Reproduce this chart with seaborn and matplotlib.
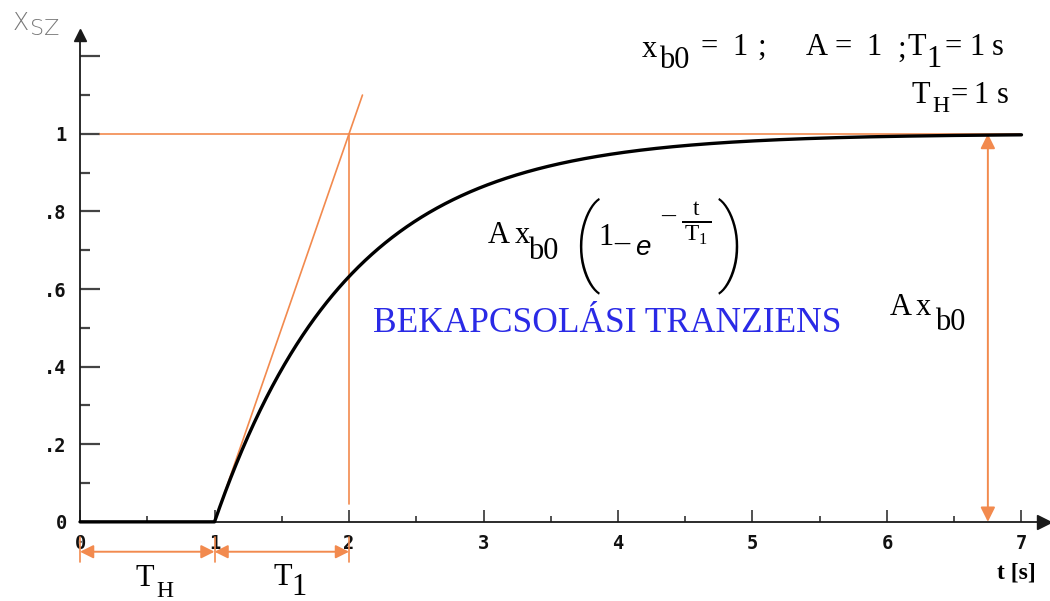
import numpy as np
import pandas as pd
import matplotlib
matplotlib.use("Agg")
import matplotlib.pyplot as plt
from matplotlib.transforms import IdentityTransform
import seaborn as sns

# Parameters of the switch-on transient
xb0 = 1.0   # input step
A = 1.0     # gain
T1 = 1.0    # time constant [s]
TH = 1.0    # dead time [s]
t_max = 7.0

x_ticks = [0, 1, 2, 3, 4, 5, 6, 7]
x_ticklabels = ["0", "1", "2", "3", "4", "5", "6", "7"]
x_minor = [0.5, 1.5, 2.5, 3.5, 4.5, 5.5, 6.5]
y_ticks = [0, 0.2, 0.4, 0.6, 0.8, 1.0, 1.2]
y_ticklabels = ["0", ".2", ".4", ".6", ".8", "1", ""]
y_minor = [0.1, 0.3, 0.5, 0.7, 0.9, 1.1]

sns.set_style("white")
plt.rcParams["mathtext.fontset"] = "custom"
plt.rcParams["mathtext.rm"] = "Liberation Serif"
plt.rcParams["mathtext.it"] = "Liberation Serif:italic"
plt.rcParams["mathtext.bf"] = "Liberation Serif:bold"
plt.rcParams["font.family"] = ["Liberation Serif", "DejaVu Sans"]

ORANGE = "#f28a4e"
AXIS = "#1a1a1a"
W, H = 1050, 601

fig = plt.figure(figsize=(W / 100, H / 100), dpi=100)
ax = fig.add_axes([0, 0, 1, 1])
ax.set_xlim(-0.595, 7.212)
ax.set_ylim(-0.204, 1.345)


def label(px, py, s, size=22, **kw):
    """Place a text piece by pixel position (origin top-left, y = baseline)."""
    kw.setdefault("ha", "left")
    kw.setdefault("va", "baseline")
    kw.setdefault("color", "black")
    return fig.text(px, H - py, s, fontsize=size, transform=IdentityTransform(), **kw)


# response curve: dead time, then first-order rise
t = np.linspace(0, t_max, 1401)
resp = np.where(t < TH, 0.0, A * xb0 * (1 - np.exp(-(t - TH) / T1)))
df = pd.DataFrame({"t": t, "x": resp})
sns.lineplot(data=df, x="t", y="x", color="black", lw=2.4, ax=ax, zorder=5)

# axes through the origin with arrow heads
for side in ["top", "right"]:
    ax.spines[side].set_visible(False)
ax.spines["left"].set_position(("data", 0))
ax.spines["bottom"].set_position(("data", 0))
ax.spines["left"].set_bounds(0, 1.25)
ax.spines["bottom"].set_bounds(0, 7.16)
for side in ["left", "bottom"]:
    ax.spines[side].set_color(AXIS)
    ax.spines[side].set_linewidth(1.3)
ax.plot([0], [1.255], marker="^", ms=8, color=AXIS, clip_on=False, zorder=6)
ax.plot([7.17], [0], marker=">", ms=10, color=AXIS, clip_on=False, zorder=6)

ax.set_xticks(x_ticks)
ax.set_xticklabels(x_ticklabels)
ax.set_xticks(x_minor, minor=True)
ax.set_yticks(y_ticks)
ax.set_yticklabels(y_ticklabels)
ax.set_yticks(y_minor, minor=True)
ax.tick_params(bottom=True, left=True, which="both")
ax.tick_params(axis="x", which="major", direction="in", length=9, width=1.2,
               color="#333333", pad=9)
ax.tick_params(axis="x", which="minor", direction="in", length=4.5, width=1.2,
               color="#333333")
ax.tick_params(axis="y", which="major", direction="in", length=14.5, width=1.6,
               color="#444444", pad=9.5)
ax.tick_params(axis="y", which="minor", direction="in", length=7, width=1.6,
               color="#444444")
for lab in ax.get_xticklabels() + ax.get_yticklabels():
    lab.set_fontfamily("DejaVu Sans Mono")
    lab.set_fontweight("bold")
    lab.set_fontsize(13.5)
    lab.set_color("#111111")
ax.set_xlabel("")
ax.set_ylabel("")

# construction lines: steady value, tangent, time constant
ax.plot([0.15, 6.99], [A * xb0, A * xb0], color=ORANGE, lw=1.2, zorder=3)
ax.plot([TH, TH + 1.1 * T1], [0, 1.1 * A * xb0], color=ORANGE, lw=1.2, zorder=3)
ax.plot([TH + T1, TH + T1], [0.045, A * xb0], color=ORANGE, lw=1.2, zorder=3)

# vertical dimension arrow A*xb0
ax.annotate("", xy=(6.75, A * xb0), xytext=(6.75, 0),
            arrowprops=dict(arrowstyle="<|-|>", color=ORANGE, lw=1.4,
                            mutation_scale=22, shrinkA=0, shrinkB=0), zorder=4)

# horizontal dimension arrows T_H and T_1 below the axis
for x0 in [0, TH, TH + T1]:
    ax.plot([x0, x0], [-0.04, -0.103], color=ORANGE, lw=1.2, clip_on=False)
for a, b in [(0, TH), (TH, TH + T1)]:
    ax.annotate("", xy=(b, -0.077), xytext=(a, -0.077),
                arrowprops=dict(arrowstyle="<|-|>", color=ORANGE, lw=1.4,
                                mutation_scale=20, shrinkA=0, shrinkB=0))

# parameter block, top right
label(642, 57, "x")
label(659, 68, "b0")
label(700, 55, "=")
label(732, 55, "1")
label(757, 55, ";")
label(806, 55, "A")
label(834, 55, "=")
label(866, 55, "1")
label(897, 57, ";")
label(907, 55, "T")
label(926, 67, "1")
label(944, 55, "=")
label(969, 55, "1")
label(992, 55, "s")
label(912, 103, "T")
label(932, 112, "H", size=17)
label(950, 103, "=")
label(973, 103, "1")
label(997, 103, "s")

# response formula
label(488, 243, "A")
label(515, 243, "x")
label(528, 259, "b0")
label(586, 235, "(", size=68, ha="center", va="center_baseline",
      family="Roboto", fontweight=100)
label(598, 245, "1")
label(614, 251, "\u2013", size=22)
label(635, 255, "e", size=20, family="Liberation Sans", style="italic")
label(661, 223, "\u2013", size=20)
label(696, 223, r"$\frac{\ \ \mathrm{t}\ \ }{\mathrm{T}_1}$", size=24,
      ha="center", va="center")
label(731, 235, ")", size=68, ha="center", va="center_baseline",
      family="Roboto", fontweight=100)

label(373, 332, "BEKAPCSOLÁSI TRANZIENS", size=25.5, color="#2a2ae6")

label(890, 315, "A")
label(916, 315, "x")
label(935, 330, "b0")

# axis titles
label(13, 30, "X", size=17, family="DejaVu Sans", color="#777777",
      fontweight="light")
label(30, 35, "SZ", size=16, family="DejaVu Sans", color="#777777",
      fontweight="light")
label(1016, 573, "t [s]", size=17, ha="center", va="center",
      fontweight="bold")
label(135, 586, "T")
label(156, 597, "H", size=17)
label(273, 585, "T")
label(291, 595, "1")

fig.savefig("out.png", dpi=100)
